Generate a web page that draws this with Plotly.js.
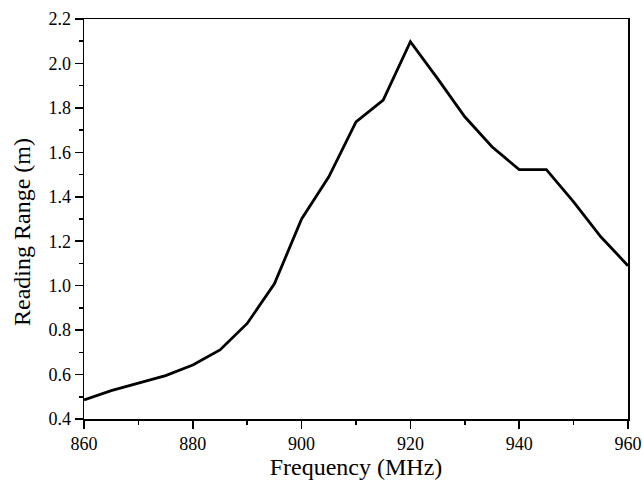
<!DOCTYPE html>
<html>
<head>
<meta charset="utf-8">
<script src="https://cdn.plot.ly/plotly-3.0.1.min.js"></script>
<style>html,body{margin:0;padding:0;background:#fff;}#chart{width:643px;height:481px;}</style>
</head>
<body>
<div id="chart"></div>
<script>
const frequency = [860, 865, 870, 875, 880, 885, 890, 895, 900, 905, 910, 915, 920, 925, 930, 935, 940, 945, 950, 955, 960];
const readingRange = [0.486, 0.528, 0.561, 0.595, 0.643, 0.711, 0.83, 1.008, 1.30, 1.49, 1.737, 1.835, 2.098, 1.932, 1.76, 1.625, 1.522, 1.522, 1.377, 1.22, 1.09];
const xTicks = [860, 880, 900, 920, 940, 960];
const yTicks = [0.4, 0.6, 0.8, 1.0, 1.2, 1.4, 1.6, 1.8, 2.0, 2.2];

const font = {family: '"Liberation Serif", "Times New Roman", serif', color: '#000'};

Plotly.newPlot('chart', [{
  x: frequency, y: readingRange, type: 'scatter', mode: 'lines',
  line: {color: '#000', width: 2.8}
}], {
  width: 643, height: 481,
  margin: {l: 84, r: 15, t: 19, b: 62},
  paper_bgcolor: '#fff', plot_bgcolor: '#fff',
  showlegend: false,
  font: Object.assign({size: 18}, font),
  xaxis: {
    range: [860, 960], tickvals: xTicks, ticktext: xTicks.map(String),
    ticks: 'outside', ticklen: 8, tickwidth: 1.5, tickcolor: '#000',
    minor: {dtick: 10, ticks: 'outside', ticklen: 4, tickwidth: 1.5, tickcolor: '#000', showgrid: false},
    showline: true, linecolor: '#000', linewidth: 1.5, mirror: true,
    showgrid: false, zeroline: false,
    tickfont: Object.assign({size: 18}, font),
    title: {text: 'Frequency (MHz)', font: Object.assign({size: 24}, font), standoff: 2}
  },
  yaxis: {
    range: [0.4, 2.2], tickvals: yTicks, ticktext: yTicks.map(v => v.toFixed(1)),
    ticks: 'outside', ticklen: 8, tickwidth: 1.5, tickcolor: '#000',
    minor: {dtick: 0.1, tick0: 0.4, ticks: 'outside', ticklen: 4, tickwidth: 1.5, tickcolor: '#000', showgrid: false},
    showline: true, linecolor: '#000', linewidth: 1.5, mirror: true,
    showgrid: false, zeroline: false,
    tickfont: Object.assign({size: 18}, font)
  },
  annotations: [{
    text: 'Reading Range (m)', textangle: -90, showarrow: false,
    xref: 'paper', yref: 'paper', x: -0.114, y: 0.4675,
    xanchor: 'center', yanchor: 'middle',
    font: Object.assign({size: 24}, font)
  }]
}, {displayModeBar: false, staticPlot: true});
</script>
</body>
</html>
